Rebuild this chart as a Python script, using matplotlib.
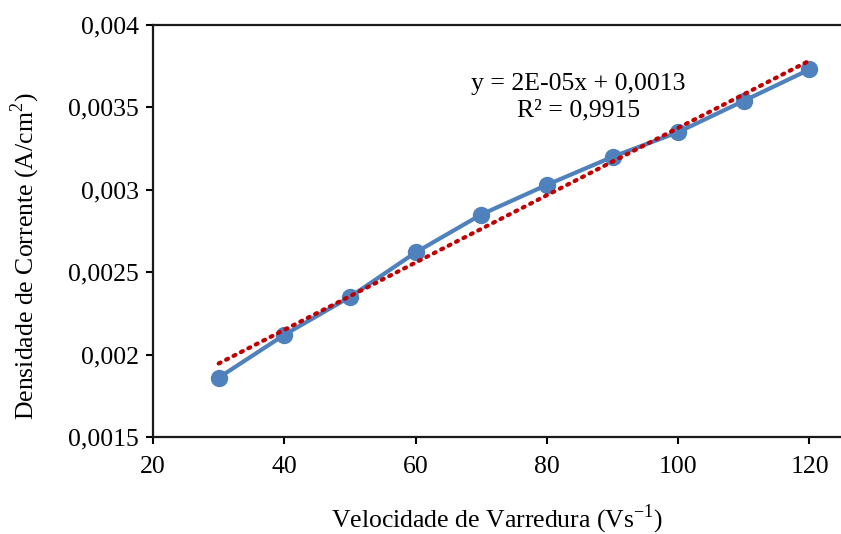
import numpy as np
import matplotlib
matplotlib.use("Agg")
import matplotlib.pyplot as plt

# dados
velocidade = [30, 40, 50, 60, 70, 80, 90, 100, 110, 120]
densidade = [0.00186, 0.00212, 0.00235, 0.00262, 0.00285,
             0.00303, 0.00320, 0.00335, 0.00354, 0.00373]

yticks = [0.0015, 0.002, 0.0025, 0.003, 0.0035, 0.004]
ytick_labels = ["0,0015", "0,002", "0,0025", "0,003", "0,0035", "0,004"]
xticks = [20, 40, 60, 80, 100, 120]

plt.rcParams['font.family'] = ['Liberation Serif', 'DejaVu Serif']
plt.rcParams['mathtext.fontset'] = 'custom'
plt.rcParams['mathtext.rm'] = 'Liberation Serif'

fig = plt.figure(figsize=(8.41, 5.34), dpi=100)
ax = fig.add_axes([0.182, 0.1816, 0.818, 0.7716])

# linha de tendência (ajuste linear)
a, b = np.polyfit(velocidade, densidade, 1)
xt = np.array([velocidade[0], velocidade[-1]])
ax.plot(xt, a * xt + b, color='#C00000', linestyle=(0, (0.5, 1.5)),
        linewidth=3.0, dash_capstyle='round', zorder=3)

ax.plot(velocidade, densidade, color='#4F81BD', linewidth=3.0,
        marker='o', markersize=11.5, zorder=2)

ax.text(84.8, 0.00356, "y = 2E-05x + 0,0013\nR² = 0,9915",
        ha='center', va='center', fontsize=18.5, linespacing=1.25)

ax.set_xlim(20, 124.8)
ax.set_ylim(0.0015, 0.004)
ax.set_xticks(xticks)
ax.set_yticks(yticks)
ax.set_yticklabels(ytick_labels)
ax.tick_params(labelsize=18.5, length=5, width=1.5, direction='out')
ax.tick_params(axis='x', pad=9)
ax.tick_params(axis='y', pad=5)

for s in ['left', 'bottom', 'top']:
    ax.spines[s].set_linewidth(1.6)
    ax.spines[s].set_color('#1a1a1a')
ax.spines['right'].set_visible(False)

ax.set_xlabel(r"Velocidade de Varredura (Vs$^{\mathrm{-1}}$)", fontsize=18.5)
ax.set_ylabel(r"Densidade de Corrente (A/cm$^{\mathrm{2}}$)", fontsize=18.5)
ax.xaxis.set_label_coords(0.5, -0.158)
ax.yaxis.set_label_coords(-0.162, 0.44)

fig.savefig("out.png", dpi=100)
